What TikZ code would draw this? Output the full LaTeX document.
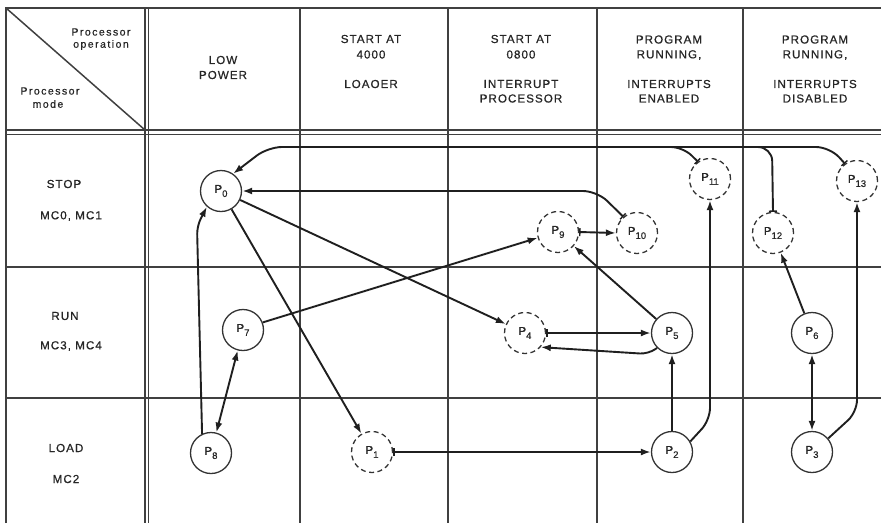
\documentclass[tikz,border=0pt]{standalone}
\usepackage{fontspec}
\setmainfont{Liberation Sans}
\newfontfamily\hdr[LetterSpace=9,FakeBold=0.8]{Liberation Sans}
\newfontfamily\lowf[LetterSpace=14,FakeBold=0.6]{Liberation Sans}
\newfontfamily\pf[FakeBold=0.5]{Liberation Sans}
\usetikzlibrary{arrows.meta}
\newcommand\PP[1]{P\raisebox{-4pt}{\fontsize{9.5}{9.5}\selectfont #1}}
\begin{document}
\begin{tikzpicture}[x=1pt,y=-1pt,
  gridl/.style={line width=1.5pt, draw=black!75},
  hd/.style={font=\hdr\fontsize{11.6}{13}\selectfont, inner sep=0pt, text=black!85},
  lw/.style={font=\lowf\fontsize{10.5}{12}\selectfont, inner sep=0pt, text=black!85},
  st/.style={circle, draw=black!80, line width=1.3pt, minimum size=41pt, inner sep=0pt, font=\pf\fontsize{11.5}{11.5}\selectfont, text=black!85},
  ds/.style={st, dash pattern=on 5pt off 3.5pt},
  arr/.style={line width=1.9pt, draw=black!88, -{Latex[length=10pt,width=7pt]}},
  barr/.style={line width=1.9pt, draw=black!88, {Bar[width=8pt,line width=1.4pt]}-{Latex[length=10pt,width=7pt]}},
  bar/.style={line width=1.9pt, draw=black!88, {Bar[width=8pt,line width=1.4pt]}-},
  dbl/.style={line width=1.9pt, draw=black!88, {Latex[length=10pt,width=7pt]}-{Latex[length=10pt,width=7pt]}}
]
\useasboundingbox (0,0) rectangle (881,523);
% grid
\draw[gridl] (6,523) -- (6,8) -- (881,8);
\draw[gridl] (145,8) -- (145,523);
\draw[gridl] (148.5,8) -- (148.5,523);
\draw[gridl] (6,130) -- (881,130);
\draw[gridl] (6,134.5) -- (881,134.5);
\draw[gridl] (6,267) -- (881,267);
\draw[gridl] (6,398) -- (881,398);
\foreach \xx in {300,448,597,743} \draw[gridl] (\xx,8) -- (\xx,523);
\draw[gridl] (6,8) -- (145,130);
% header texts
\node[lw] (ha1) at (101,32) {Processor};
\node[lw] (ha2) at (101,45) {operation};
\node[lw] (hb1) at (50,91) {Processor};
\node[lw] (hb2) at (48,104) {mode};
\node[hd] (c1a) at (223,60) {LOW};
\node[hd] (c1b) at (223,75) {POWER};
\node[hd] (c2a) at (371,39) {START AT};
\node[hd] (c2b) at (371,54.5) {4000};
\node[hd] (c2c) at (371,84) {LOAOER};
\node[hd] (c3a) at (521,39) {START AT};
\node[hd] (c3b) at (521,54.5) {0800};
\node[hd] (c3c) at (521,84) {INTERRUPT};
\node[hd] (c3d) at (521,98.5) {PROCESSOR};
\node[hd] (c4a) at (669,39.5) {PROGRAM};
\node[hd] (c4b) at (669,55) {RUNNING,};
\node[hd] (c4c) at (669,84) {INTERRUPTS};
\node[hd] (c4d) at (669,98.5) {ENABLED};
\node[hd] (c5a) at (815,39.5) {PROGRAM};
\node[hd] (c5b) at (815,55) {RUNNING,};
\node[hd] (c5c) at (815,84) {INTERRUPTS};
\node[hd] (c5d) at (815,98.5) {DISABLED};
% row labels
\node[hd] (r1a) at (64,184) {STOP};
\node[hd] (r1b) at (71,216) {MC0, MC1};
\node[hd] (r2a) at (65,316) {RUN};
\node[hd] (r2b) at (71,346) {MC3, MC4};
\node[hd] (r3a) at (66,448) {LOAD};
\node[hd] (r3b) at (66,479) {MC2};
% states
\node[st] (P0) at (221,191) {\PP{0}};
\node[ds] (P1) at (372,452) {\PP{1}};
\node[st] (P2) at (672,452) {\PP{2}};
\node[st] (P3) at (812,452) {\PP{3}};
\node[ds] (P4) at (525,333) {\PP{4}};
\node[st] (P5) at (672,333) {\PP{5}};
\node[st] (P6) at (812,333) {\PP{6}};
\node[st] (P7) at (243,330) {\PP{7}};
\node[st] (P8) at (211,453) {\PP{8}};
\node[ds] (P9) at (558,232) {\PP{9}};
\node[ds] (P10) at (637,233) {\PP{10}};
\node[ds] (P11) at (710,179) {\PP{11}};
\node[ds] (P12) at (773,233) {\PP{12}};
\node[ds] (P13) at (857,181) {\PP{13}};
% connectors
\coordinate (tR) at (830,147);
\coordinate (tL) at (268,147);
\draw[barr, rounded corners=14pt] (P13.125) -- (tR) -- (tL) -- (P0.55);
\coordinate (b11) at (683,147);
\coordinate (b11e) at (660,147);
\draw[bar, rounded corners=12pt] (P11.125) -- (b11) -- (b11e);
\coordinate (b12) at (772,147);
\coordinate (b12e) at (745,147);
\draw[bar, rounded corners=14pt] (P12.north) -- (b12) -- (b12e);
\coordinate (k10) at (597,191);
\draw[barr, rounded corners=14pt] (P10.130) -- (k10) -- (P0.east);
\draw[barr] (P9.east) -- (P10.west);
\draw[arr] (P7.21) -- (P9.196);
\draw[arr] (P5) -- (P9);
\draw[arr] (P0) -- (P4);
\draw[arr] (P0) -- (P1);
\coordinate (k8) at (197,226);
\draw[arr, rounded corners=8pt] (P8.115) -- (k8) -- (P0.228);
\draw[dbl] (P7) -- (P8);
\draw[barr] (P1) -- (P2);
\draw[barr] (P4.east) -- (P5.west);
\coordinate (k54) at (648,354);
\draw[arr, rounded corners=8pt] (P5.225) -- (k54) -- (P4.-42);
\draw[arr] (P2) -- (P5);
\coordinate (k211) at (710,420);
\draw[arr, rounded corners=12pt] (P2.30) -- (k211) -- (P11.south);
\draw[arr] (P6) -- (P12);
\draw[dbl] (P6) -- (P3);
\coordinate (k313) at (857,412);
\draw[arr, rounded corners=12pt] (P3.40) -- (k313) -- (P13.south);
\end{tikzpicture}
\end{document}
